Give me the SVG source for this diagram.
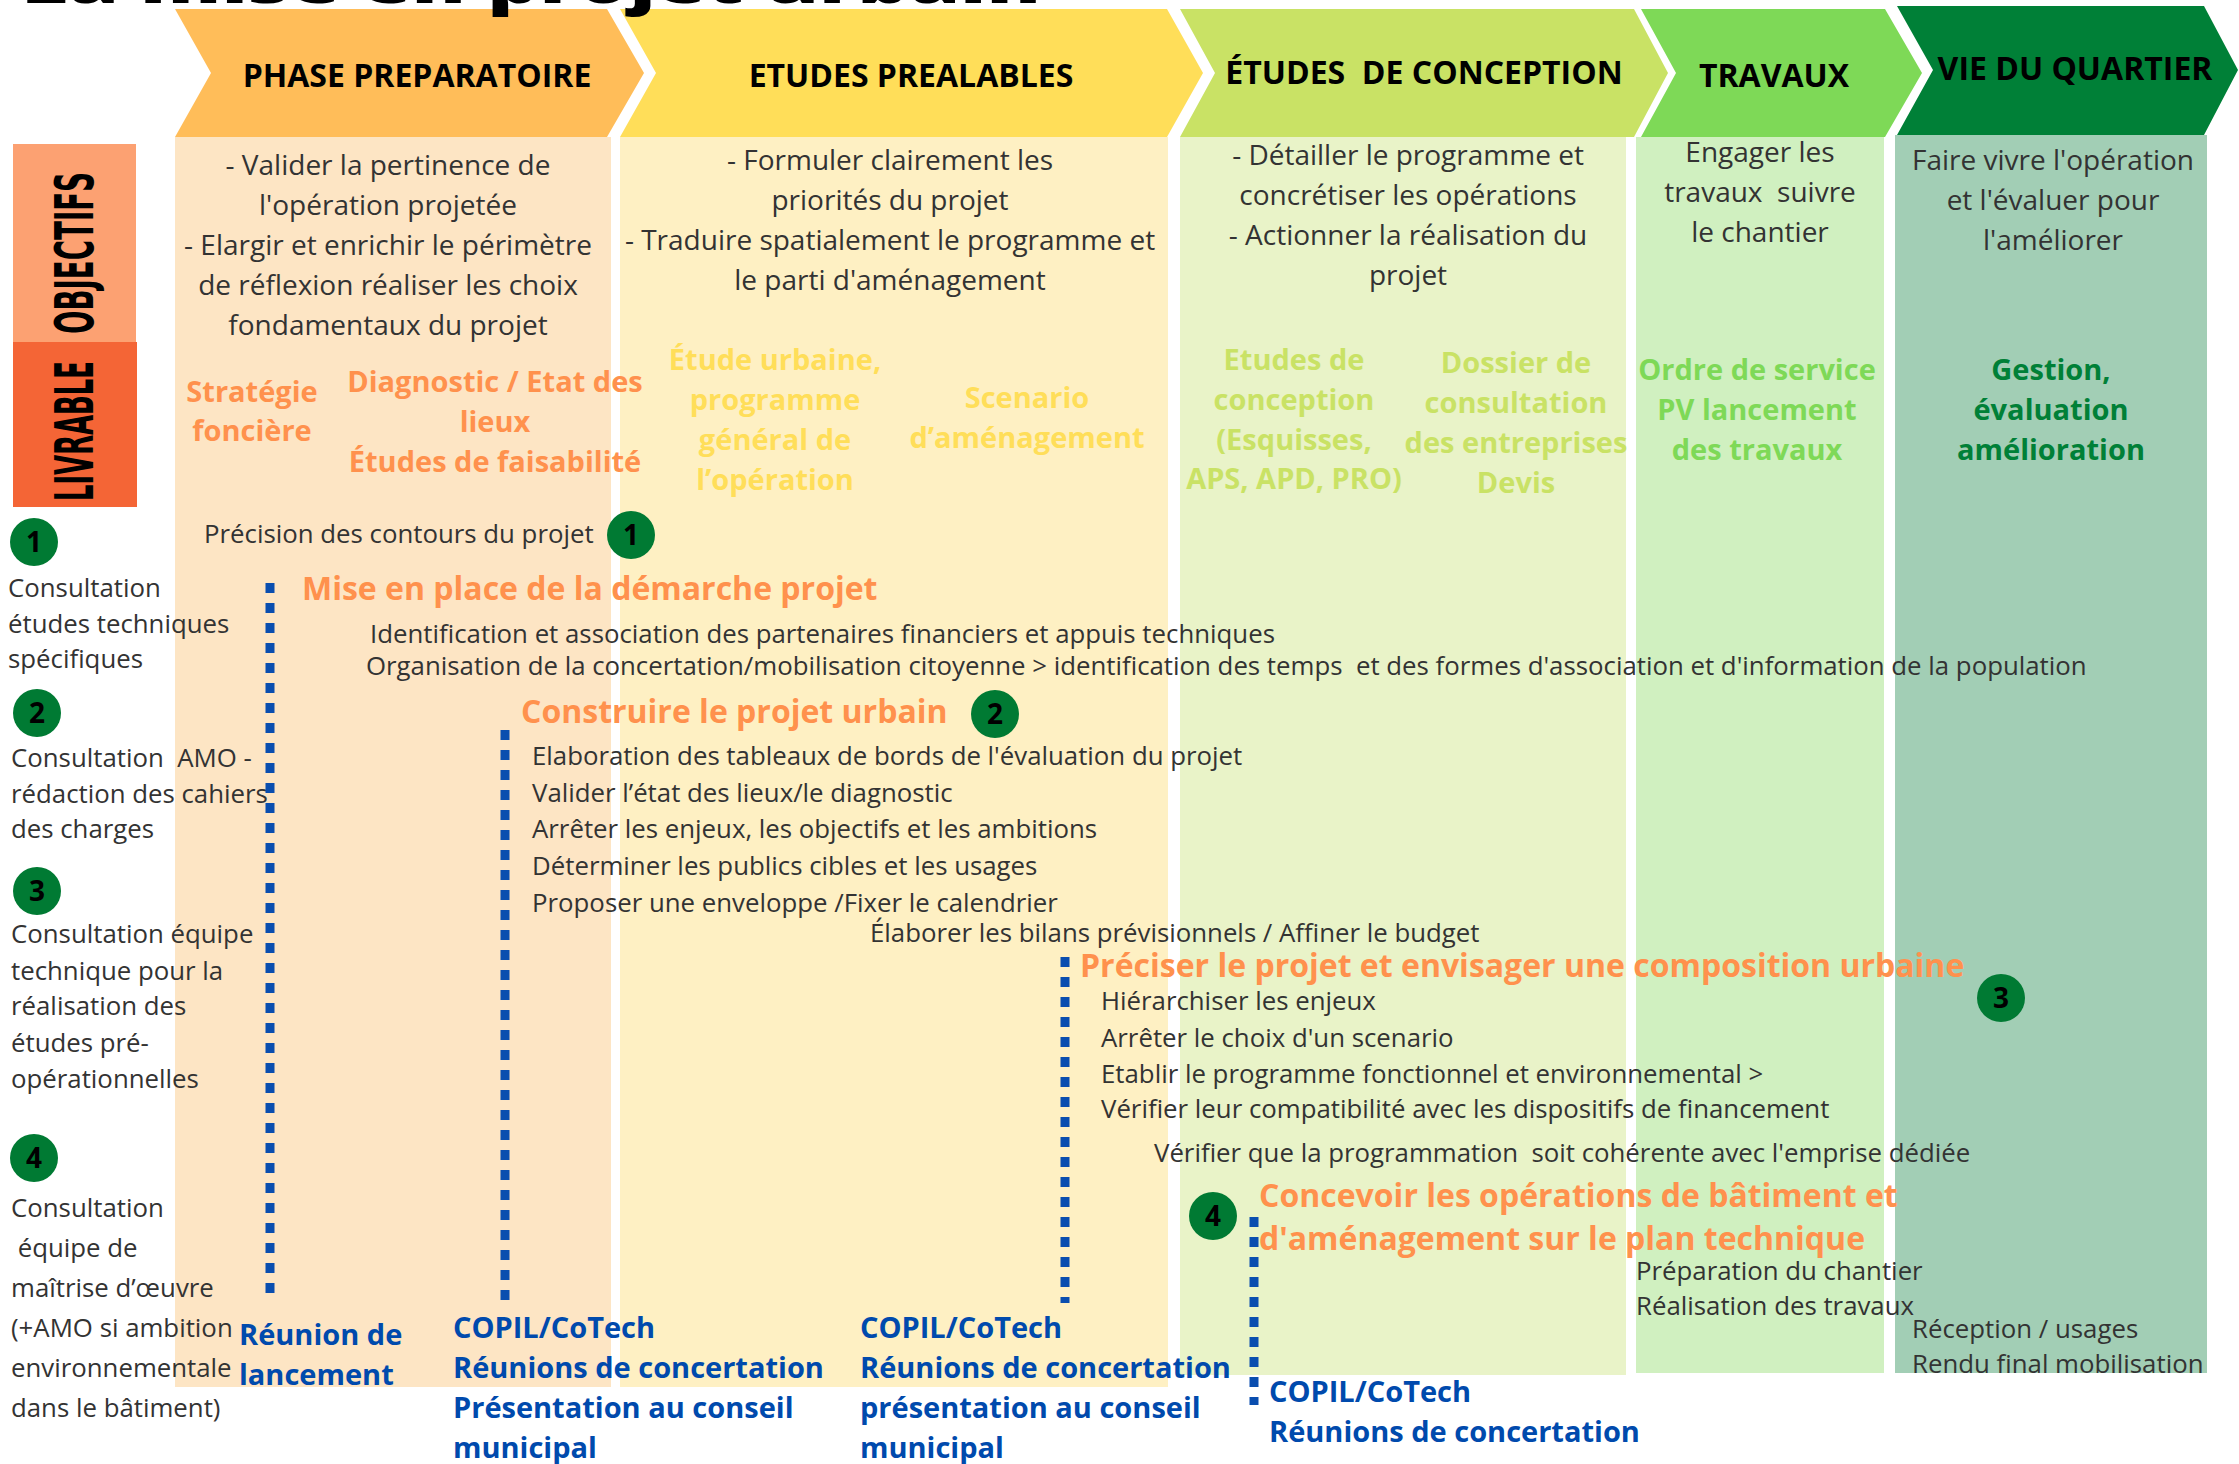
<svg xmlns="http://www.w3.org/2000/svg" width="2239" height="1464" viewBox="0 0 2239 1464" xml:space="preserve">
<style>
text{white-space:pre}
.hd{font-family:"Open Sans","Noto Sans",sans-serif;font-weight:700;font-size:32px;fill:#000;text-anchor:middle}
.ob{font-family:"Open Sans","Noto Sans",sans-serif;font-weight:400;font-size:28px;fill:#333;text-anchor:middle}
.lv{font-family:"Open Sans","Noto Sans",sans-serif;font-weight:700;font-size:29px;text-anchor:middle}
.tx{font-family:"Open Sans","Noto Sans",sans-serif;font-weight:400;font-size:25.8px;fill:#333}
.or{font-family:"Open Sans","Noto Sans",sans-serif;font-weight:700;font-size:32px;fill:#FF914D}
.bl{font-family:"Open Sans","Noto Sans",sans-serif;font-weight:700;font-size:29px;fill:#004AAD}
.num{font-family:"Open Sans","Noto Sans",sans-serif;font-weight:700;font-size:28px;fill:#000;text-anchor:middle}
.side{font-family:"DejaVu Sans",sans-serif;font-weight:700;font-size:54px;fill:#000;text-anchor:middle}
.dot{stroke:#0A4EAF;stroke-width:9;stroke-dasharray:10 10;fill:none}
.c{fill:#007A33}
</style>
<g id="columns">
<rect x="175" y="137" width="436" height="1250" fill="#FDE5C4"/>
<rect x="620" y="137" width="548" height="1250" fill="#FEF0C3"/>
<rect x="1180" y="137" width="446" height="1238" fill="#E9F3C8"/>
<rect x="1636" y="137" width="248" height="1236" fill="#D0F0C0"/>
<rect x="1895" y="135" width="312" height="1238" fill="#A2CEB5"/>
</g>
<g id="phase-preparatoire">
<polygon points="175,9 607,9 644,73 607,137 175,137 211,73" fill="#FFBD59"/>
<text class="hd" x="417" y="87">PHASE PREPARATOIRE</text>
<text class="ob" x="388" y="175">- Valider la pertinence de</text>
<text class="ob" x="388" y="215">l'opération projetée</text>
<text class="ob" x="388" y="255">- Elargir et enrichir le périmètre</text>
<text class="ob" x="388" y="295">de réflexion réaliser les choix</text>
<text class="ob" x="388" y="335">fondamentaux du projet</text>
<text class="lv" fill="#FF914D" x="252" y="402">Stratégie</text>
<text class="lv" fill="#FF914D" x="252" y="441">foncière</text>
<text class="lv" fill="#FF914D" x="495" y="392">Diagnostic / Etat des</text>
<text class="lv" fill="#FF914D" x="495" y="432">lieux</text>
<text class="lv" fill="#FF914D" x="495" y="472">Études de faisabilité</text>
</g>
<g id="etudes-prealables">
<polygon points="620,9 1167,9 1203,73 1167,137 620,137 656,73" fill="#FFDE59"/>
<text class="hd" x="911" y="87">ETUDES PREALABLES</text>
<text class="ob" x="890" y="170">- Formuler clairement les</text>
<text class="ob" x="890" y="210">priorités du projet</text>
<text class="ob" x="890" y="250">- Traduire spatialement le programme et</text>
<text class="ob" x="890" y="290">le parti d'aménagement</text>
<text class="lv" fill="#FFDE59" x="775" y="370">Étude urbaine,</text>
<text class="lv" fill="#FFDE59" x="775" y="410">programme</text>
<text class="lv" fill="#FFDE59" x="775" y="450">général de</text>
<text class="lv" fill="#FFDE59" x="775" y="490">l’opération</text>
<text class="lv" fill="#FFDE59" x="1027" y="408">Scenario</text>
<text class="lv" fill="#FFDE59" x="1027" y="448">d’aménagement</text>
</g>
<g id="etudes-conception">
<polygon points="1180,9 1634,9 1668,73 1634,137 1180,137 1215,73" fill="#C9E265"/>
<text class="hd" x="1424" y="84">ÉTUDES  DE CONCEPTION</text>
<text class="ob" x="1408" y="165">- Détailler le programme et</text>
<text class="ob" x="1408" y="205">concrétiser les opérations</text>
<text class="ob" x="1408" y="245">- Actionner la réalisation du</text>
<text class="ob" x="1408" y="285">projet</text>
<text class="lv" fill="#C9E265" x="1294" y="370">Etudes de</text>
<text class="lv" fill="#C9E265" x="1294" y="410">conception</text>
<text class="lv" fill="#C9E265" x="1294" y="450">(Esquisses,</text>
<text class="lv" fill="#C9E265" x="1294" y="489">APS, APD, PRO)</text>
<text class="lv" fill="#C9E265" x="1516" y="373">Dossier de</text>
<text class="lv" fill="#C9E265" x="1516" y="413">consultation</text>
<text class="lv" fill="#C9E265" x="1516" y="453">des entreprises</text>
<text class="lv" fill="#C9E265" x="1516" y="493">Devis</text>
</g>
<g id="travaux">
<polygon points="1641,9 1885,9 1922,73 1885,137 1641,137 1676,73" fill="#7ED957"/>
<text class="hd" x="1774" y="87">TRAVAUX</text>
<text class="ob" x="1760" y="162">Engager les</text>
<text class="ob" x="1760" y="202">travaux  suivre</text>
<text class="ob" x="1760" y="242">le chantier</text>
<text class="lv" fill="#7ED957" x="1757" y="380">Ordre de service</text>
<text class="lv" fill="#7ED957" x="1757" y="420">PV lancement</text>
<text class="lv" fill="#7ED957" x="1757" y="460">des travaux</text>
</g>
<g id="vie-du-quartier">
<polygon points="1897,6 2204,6 2238,70 2204,135 1897,135 1933,70" fill="#008037"/>
<text class="hd" x="2075" y="80">VIE DU QUARTIER</text>
<text class="ob" x="2053" y="170">Faire vivre l'opération</text>
<text class="ob" x="2053" y="210">et l'évaluer pour</text>
<text class="ob" x="2053" y="250">l'améliorer</text>
<text class="lv" fill="#008037" x="2051" y="380">Gestion,</text>
<text class="lv" fill="#008037" x="2051" y="420">évaluation</text>
<text class="lv" fill="#008037" x="2051" y="460">amélioration</text>
</g>
<g id="title">
<text x="21" y="3" font-family="Open Sans, Noto Sans, sans-serif" font-weight="800" font-size="56" fill="#000" textLength="1020" lengthAdjust="spacingAndGlyphs">La mise en projet urbain</text>
</g>
<g id="side-labels">
<rect x="13" y="144" width="123" height="198" fill="#FCA172"/>
<rect x="13" y="342" width="124" height="165" fill="#F46536"/>
<text class="side" transform="translate(93,253) rotate(-90)" textLength="162" lengthAdjust="spacingAndGlyphs">OBJECTIFS</text>
<text class="side" transform="translate(93,431) rotate(-90)" textLength="140" lengthAdjust="spacingAndGlyphs">LIVRABLE</text>
</g>
<g id="consultations">
<circle class="c" cx="34" cy="542" r="24"/><text class="num" x="34" y="552">1</text>
<text class="tx" x="8" y="597">Consultation</text>
<text class="tx" x="8" y="633">études techniques</text>
<text class="tx" x="8" y="668">spécifiques</text>
<circle class="c" cx="37" cy="713" r="24"/><text class="num" x="37" y="723">2</text>
<text class="tx" x="11" y="767">Consultation  AMO -</text>
<text class="tx" x="11" y="803">rédaction des cahiers</text>
<text class="tx" x="11" y="838">des charges</text>
<circle class="c" cx="37" cy="891" r="24"/><text class="num" x="37" y="901">3</text>
<text class="tx" x="11" y="943">Consultation équipe</text>
<text class="tx" x="11" y="980">technique pour la</text>
<text class="tx" x="11" y="1015">réalisation des</text>
<text class="tx" x="11" y="1052">études pré-</text>
<text class="tx" x="11" y="1088">opérationnelles</text>
<circle class="c" cx="34" cy="1158" r="24"/><text class="num" x="34" y="1168">4</text>
<text class="tx" x="11" y="1217">Consultation</text>
<text class="tx" x="11" y="1257"> équipe de</text>
<text class="tx" x="11" y="1297">maîtrise d’œuvre</text>
<text class="tx" x="11" y="1337">(+AMO si ambition</text>
<text class="tx" x="11" y="1377">environnementale</text>
<text class="tx" x="11" y="1417">dans le bâtiment)</text>
</g>
<g id="connectors">
<line class="dot" x1="270" y1="583" x2="270" y2="1293"/>
<line class="dot" x1="505" y1="730" x2="505" y2="1308"/>
<line class="dot" x1="1065" y1="957" x2="1065" y2="1303"/>
<line class="dot" x1="1254" y1="1217" x2="1254" y2="1405"/>
</g>
<g id="step-1">
<text class="tx" x="204" y="543">Précision des contours du projet</text>
<circle class="c" cx="631" cy="535" r="24"/><text class="num" x="631" y="545">1</text>
<text class="or" x="302" y="600">Mise en place de la démarche projet</text>
<text class="tx" x="370" y="643">Identification et association des partenaires financiers et appuis techniques</text>
<text class="tx" x="366" y="675">Organisation de la concertation/mobilisation citoyenne &gt; identification des temps  et des formes d'association et d'information de la population</text>
</g>
<g id="step-2">
<text class="or" x="521" y="723">Construire le projet urbain</text>
<circle class="c" cx="995" cy="714" r="24"/><text class="num" x="995" y="724">2</text>
<text class="tx" x="532" y="765">Elaboration des tableaux de bords de l'évaluation du projet</text>
<text class="tx" x="532" y="802">Valider l’état des lieux/le diagnostic</text>
<text class="tx" x="532" y="838">Arrêter les enjeux, les objectifs et les ambitions</text>
<text class="tx" x="532" y="875">Déterminer les publics cibles et les usages</text>
<text class="tx" x="532" y="912">Proposer une enveloppe /Fixer le calendrier</text>
<text class="tx" x="870" y="942">Élaborer les bilans prévisionnels / Affiner le budget</text>
</g>
<g id="step-3">
<text class="or" x="1080" y="977">Préciser le projet et envisager une composition urbaine</text>
<circle class="c" cx="2001" cy="998" r="24"/><text class="num" x="2001" y="1008">3</text>
<text class="tx" x="1101" y="1010">Hiérarchiser les enjeux</text>
<text class="tx" x="1101" y="1047">Arrêter le choix d'un scenario</text>
<text class="tx" x="1101" y="1083">Etablir le programme fonctionnel et environnemental &gt;</text>
<text class="tx" x="1101" y="1118">Vérifier leur compatibilité avec les dispositifs de financement</text>
<text class="tx" x="1154" y="1162">Vérifier que la programmation  soit cohérente avec l'emprise dédiée</text>
</g>
<g id="step-4">
<circle class="c" cx="1213" cy="1216" r="24"/><text class="num" x="1213" y="1226">4</text>
<text class="or" x="1259" y="1207">Concevoir les opérations de bâtiment et</text>
<text class="or" x="1259" y="1250">d'aménagement sur le plan technique</text>
<text class="tx" x="1636" y="1280">Préparation du chantier</text>
<text class="tx" x="1636" y="1315">Réalisation des travaux</text>
<text class="tx" x="1912" y="1338">Réception / usages</text>
<text class="tx" x="1912" y="1373">Rendu final mobilisation</text>
</g>
<g id="meetings">
<text class="bl" x="239" y="1345">Réunion de</text>
<text class="bl" x="239" y="1385">lancement</text>
<text class="bl" x="453" y="1338">COPIL/CoTech</text>
<text class="bl" x="453" y="1378">Réunions de concertation</text>
<text class="bl" x="453" y="1418">Présentation au conseil</text>
<text class="bl" x="453" y="1458">municipal</text>
<text class="bl" x="860" y="1338">COPIL/CoTech</text>
<text class="bl" x="860" y="1378">Réunions de concertation</text>
<text class="bl" x="860" y="1418">présentation au conseil</text>
<text class="bl" x="860" y="1458">municipal</text>
<text class="bl" x="1269" y="1402">COPIL/CoTech</text>
<text class="bl" x="1269" y="1442">Réunions de concertation</text>
</g>
</svg>
